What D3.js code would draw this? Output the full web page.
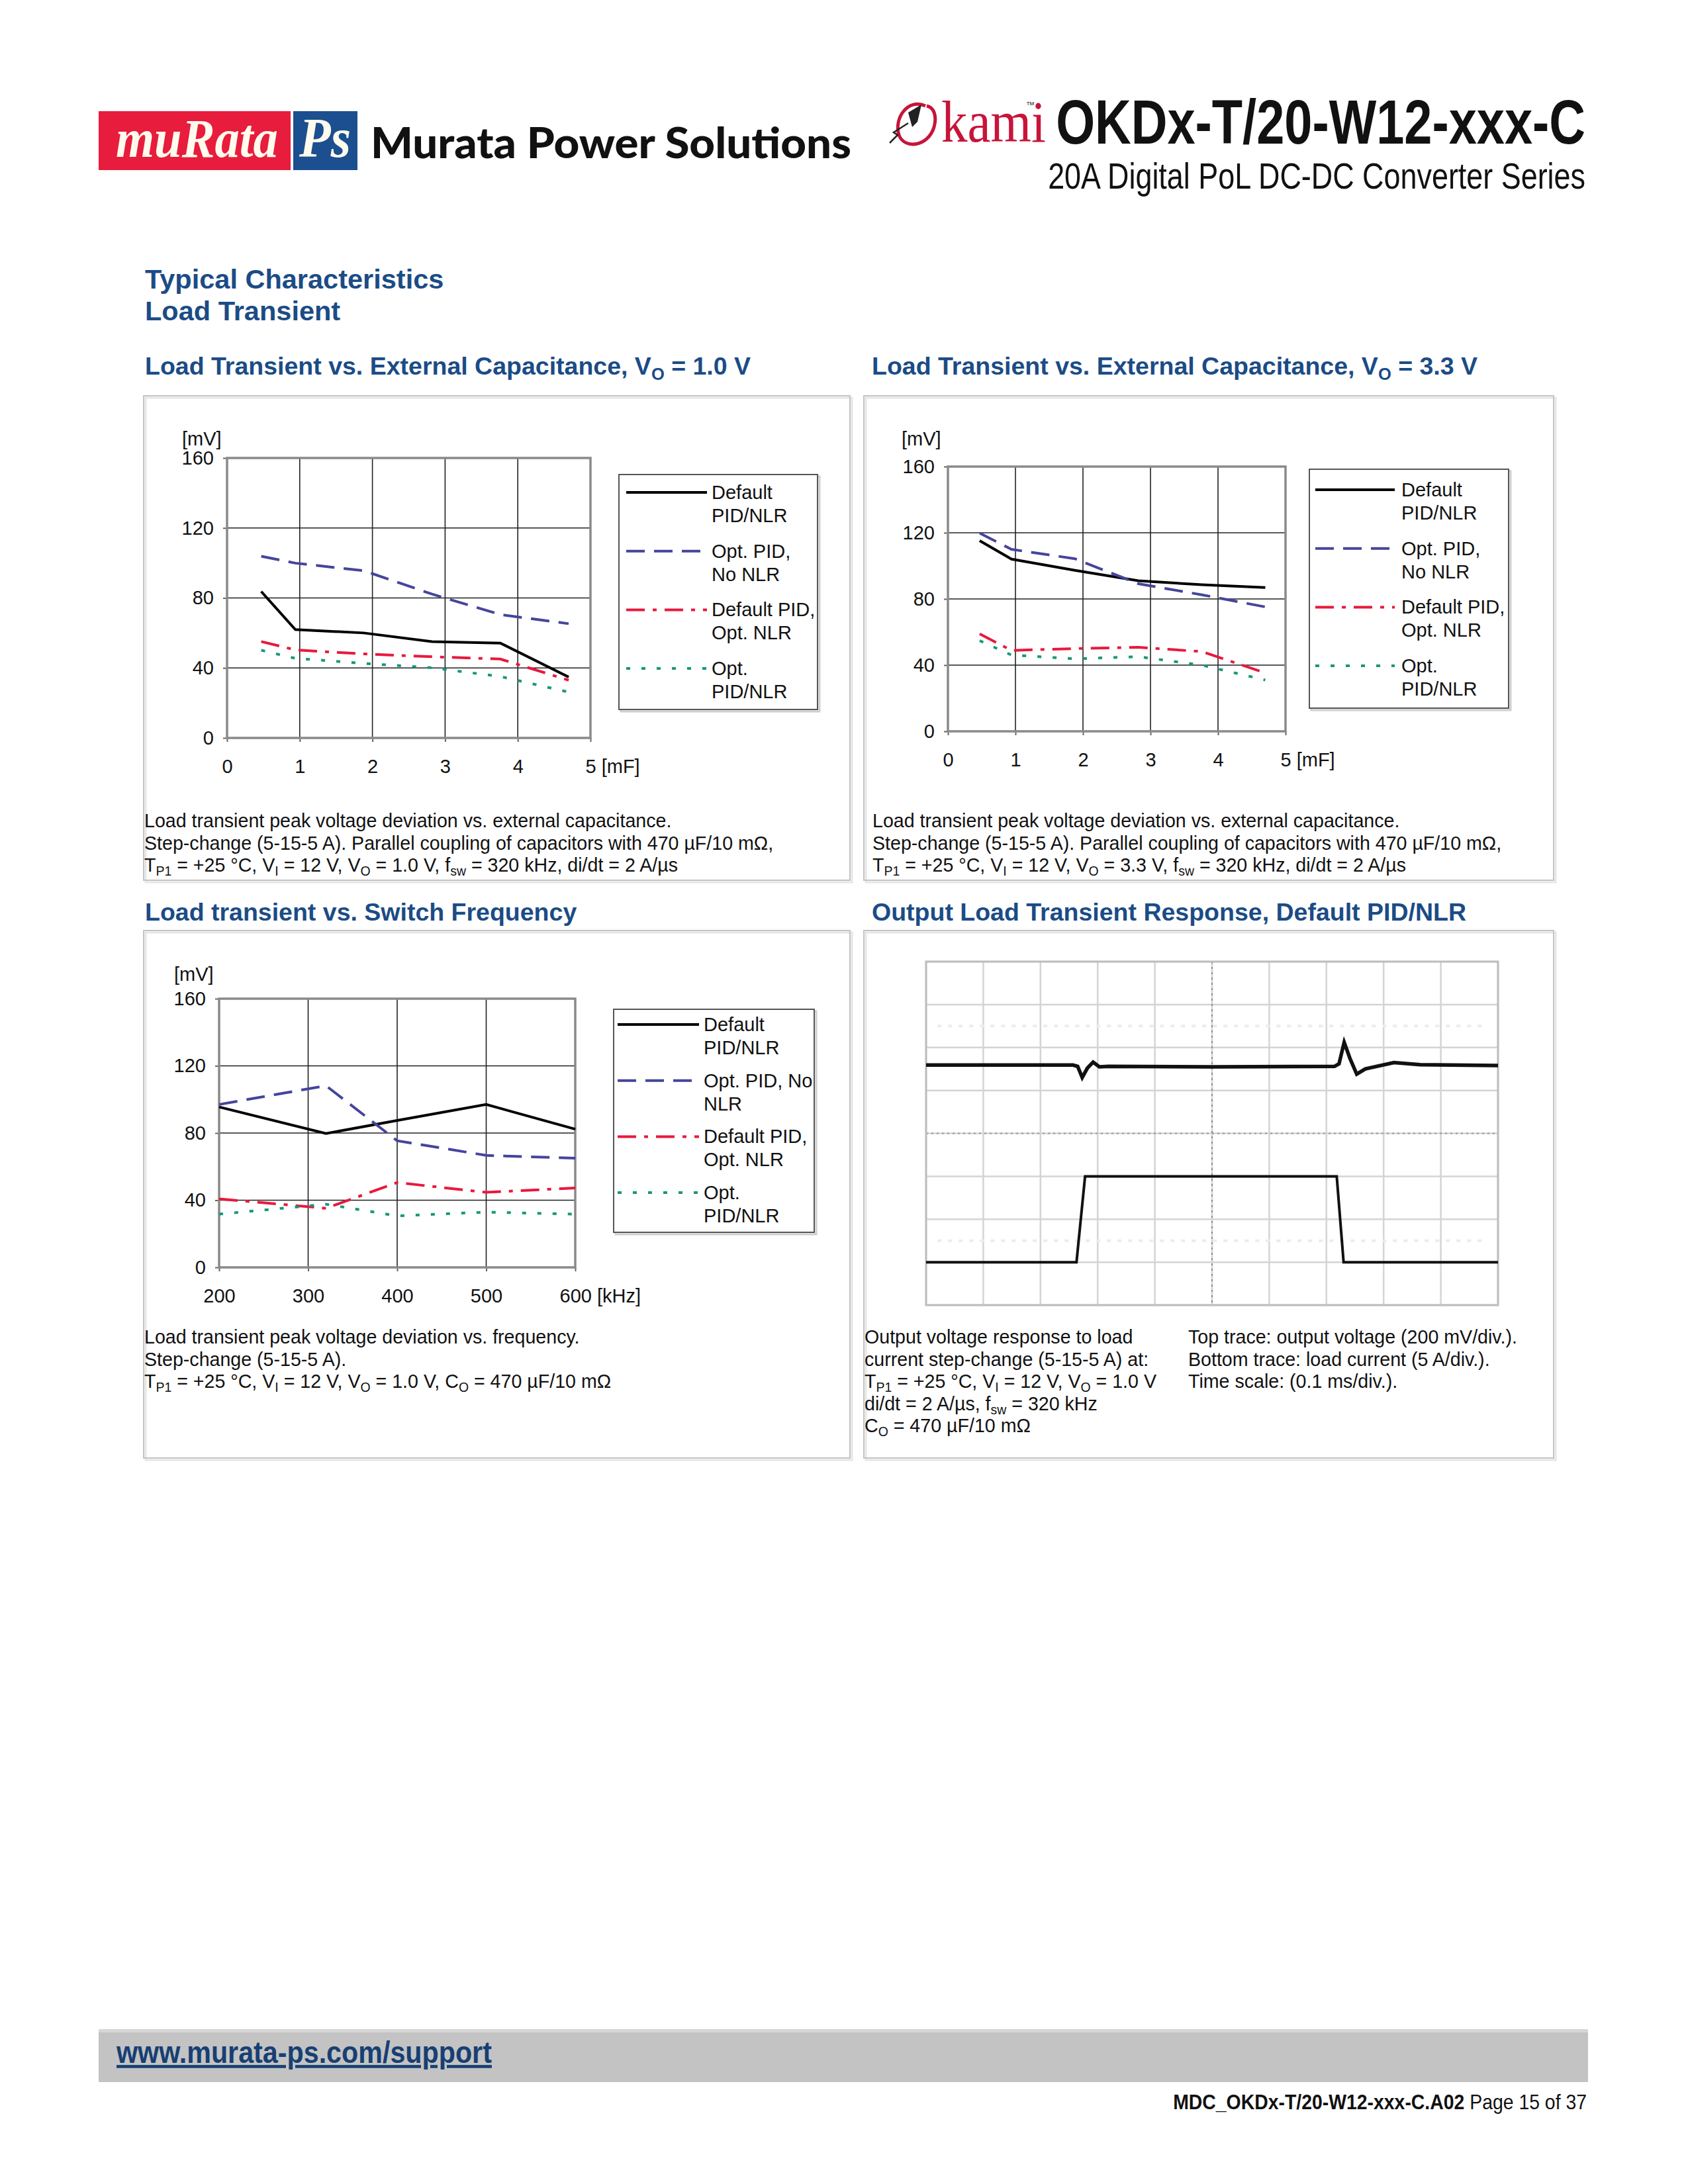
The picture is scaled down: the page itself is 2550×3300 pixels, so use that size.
<!DOCTYPE html>
<html>
<head>
<meta charset="utf-8">
<script src="https://cdn.jsdelivr.net/npm/d3@7"></script>
<style>
  body { margin: 0; background: #fff; }
  text { font-family: "Liberation Sans", Arial, sans-serif; }
</style>
</head>
<body>
<svg id="page" width="2550" height="3300"></svg>
<script>
// ---- data ----
var capMF = [0.47, 0.94, 1.88, 2.82, 3.76, 4.7];       // n x 470 uF
var vo10Default = [83.7, 61.9, 60.0, 55.0, 54.2, 34.8];
var vo10OptPid  = [103.8, 99.9, 95.6, 82.2, 70.5, 65.3];
var vo10OptNlr  = [55.1, 50.3, 48.0, 46.4, 45.1, 33.0];
var vo10OptBoth = [50.1, 45.5, 42.6, 40.1, 35.1, 26.2];

var vo33Default = [115.2, 104.1, 97.3, 91.0, 88.6, 86.9];
var vo33OptPid  = [119.8, 110.0, 104.3, 89.2, 82.5, 75.2];
var vo33OptNlr  = [58.9, 48.9, 50.0, 50.8, 48.2, 35.3];
var vo33OptBoth = [54.8, 46.1, 43.8, 45.1, 40.0, 31.0];

var freqKHz     = [200, 320, 400, 500, 600];
var fswDefault  = [95.5, 79.7, 87.5, 97.0, 82.3];
var fswOptPid   = [97.0, 108.2, 75.4, 66.7, 65.0];
var fswOptNlr   = [40.8, 35.2, 50.5, 44.7, 47.3];
var fswOptBoth  = [31.7, 37.6, 30.7, 32.9, 31.7];

var mvTicks  = [0, 40, 80, 120, 160];
var mfTicks  = [0, 1, 2, 3, 4, 5];
var khzTicks = [200, 300, 400, 500, 600];

var capLegend  = [["Default", "PID/NLR"], ["Opt. PID,", "No NLR"], ["Default PID,", "Opt. NLR"], ["Opt.", "PID/NLR"]];
var freqLegend = [["Default", "PID/NLR"], ["Opt. PID, No", "NLR"], ["Default PID,", "Opt. NLR"], ["Opt.", "PID/NLR"]];

// scope shot: time in ms (0.1 ms/div), output deviation in mV (200 mV/div), load in A (5 A/div)
var scopeTimeV = [0, 0.257, 0.265, 0.273, 0.282, 0.292, 0.303, 0.319, 0.5, 0.714, 0.722, 0.731, 0.741, 0.753, 0.768, 0.818, 0.864, 1.0];
var scopeDevMV = [2, 2, -4, -56, -12, 16, -6, -4, -6, -4, 8, 108, 34, -40, -16, 14, 4, 0];
var scopeTimeI = [0, 0.263, 0.278, 0.718, 0.730, 1.0];
var scopeLoadA = [5, 5, 15, 15, 5, 5];

// ---- styles ----
var blue = "#1b4c86";
var lineStyles = [
  { color: "#000000", dash: null },
  { color: "#45459c", dash: "28,14" },
  { color: "#e8193c", dash: "28,12,6,12" },
  { color: "#17977b", dash: "6,17" }
];

var svg = d3.select("#page");

// text with sub-scripts: parts = ["txt", ["sub","s"], ...]
function rich(g, x, y, parts, size, attrs) {
  var t = g.append("text").attr("x", x).attr("y", y).attr("font-size", size);
  for (var k in attrs) t.attr(k, attrs[k]);
  var pend = 0;
  parts.forEach(function(p) {
    if (typeof p === "string") {
      var ts = t.append("tspan").text(p);
      if (pend) { ts.attr("dy", pend); pend = 0; }
    } else {
      t.append("tspan").attr("dy", size * 0.22).attr("font-size", size * 0.68).text(p[1]);
      pend = -size * 0.22;
    }
  });
  return t;
}

// squeeze a text horizontally to a given width (condensed look)
function squeeze(t, x, y, width) {
  var w = t.node().getComputedTextLength();
  t.attr("transform", "translate(" + x + "," + y + ") scale(" + (width / w) + ",1)");
  return t;
}

// ---- header ----
var hdr = svg.append("g");
hdr.append("rect").attr("x", 149).attr("y", 168).attr("width", 290).attr("height", 89).attr("fill", "#e81c3c");
hdr.append("rect").attr("x", 443).attr("y", 168).attr("width", 97).attr("height", 89).attr("fill", "#1b4f8f");
squeeze(hdr.append("text").style("font-family", "Liberation Serif, serif")
  .attr("font-style", "italic").attr("font-weight", "bold").attr("font-size", 82)
  .attr("fill", "#fffbee").text("muRata"), 175, 237, 245);
squeeze(hdr.append("text").style("font-family", "Liberation Serif, serif")
  .attr("font-style", "italic").attr("font-weight", "bold").attr("font-size", 84)
  .attr("fill", "#fffbee").text("Ps"), 452, 237, 78);
squeeze(hdr.append("text").style("font-family", "Lato, sans-serif").attr("font-weight", 900)
  .attr("font-size", 64).attr("fill", "#111").text("Murata Power Solutions"), 560, 239, 726);

// okami mark
hdr.append("path").attr("d", "M1398,160 C1372,148 1350,178 1358,204 C1366,226 1402,222 1411,192 C1416,174 1410,162 1400,160")
  .attr("fill", "none").attr("stroke", "#c8143a").attr("stroke-width", 5);
hdr.append("path").attr("d", "M1372,170 L1392,158 L1386,184 L1378,192 Z").attr("fill", "#222");
hdr.append("path").attr("d", "M1344,216 L1356,204 L1350,200 L1372,186")
  .attr("fill", "none").attr("stroke", "#222").attr("stroke-width", 2.5);
squeeze(hdr.append("text").style("font-family", "Liberation Serif, serif").attr("font-size", 88)
  .attr("fill", "#c8143a").text("kami"), 1422, 214, 158);
hdr.append("text").attr("x", 1550).attr("y", 163).attr("font-size", 13).attr("fill", "#333").text("™");

squeeze(hdr.append("text").attr("text-anchor", "end")
  .attr("font-weight", "bold").attr("font-size", 94).attr("fill", "#111")
  .text("OKDx-T/20-W12-xxx-C"), 2395, 217, 800);
squeeze(hdr.append("text").attr("text-anchor", "end")
  .attr("font-size", 56).attr("fill", "#111")
  .text("20A Digital PoL DC-DC Converter Series"), 2395, 285, 812);

// ---- section titles ----
svg.append("text").attr("x", 219).attr("y", 436).attr("font-size", 41.5).attr("font-weight", "bold").attr("fill", blue).text("Typical Characteristics");
svg.append("text").attr("x", 219).attr("y", 484).attr("font-size", 41.5).attr("font-weight", "bold").attr("fill", blue).text("Load Transient");

rich(svg, 219, 566, ["Load Transient vs. External Capacitance, V", ["sub", "O"], " = 1.0 V"], 37.5, { "font-weight": "bold", fill: blue });
rich(svg, 1317, 566, ["Load Transient vs. External Capacitance, V", ["sub", "O"], " = 3.3 V"], 37.5, { "font-weight": "bold", fill: blue });
rich(svg, 219, 1391, ["Load transient vs. Switch Frequency"], 37.5, { "font-weight": "bold", fill: blue });
rich(svg, 1317, 1391, ["Output Load Transient Response, Default PID/NLR"], 37.5, { "font-weight": "bold", fill: blue });

// ---- panel frames ----
[[217, 598, 1284, 1330], [1305, 598, 2347, 1330], [217, 1406, 1284, 2203], [1305, 1406, 2347, 2203]].forEach(function(b) {
  svg.append("rect").attr("x", b[0] + 3).attr("y", b[1] + 3).attr("width", b[2] - b[0]).attr("height", b[3] - b[1])
    .attr("fill", "none").attr("stroke", "#e6e6e6").attr("stroke-width", 3);
  svg.append("rect").attr("x", b[0]).attr("y", b[1]).attr("width", b[2] - b[0]).attr("height", b[3] - b[1])
    .attr("fill", "none").attr("stroke", "#c4c4c4").attr("stroke-width", 2);
});

// ---- xy charts ----
function xyChart(cfg) {
  var g = svg.append("g");
  var x = d3.scaleLinear().domain(cfg.xDomain).range([cfg.left, cfg.right]);
  var y = d3.scaleLinear().domain([0, 160]).range([cfg.bottom, cfg.top]);

  // grid
  g.append("g").selectAll("line").data(cfg.xTicks.slice(1, -1)).enter().append("line")
    .attr("x1", function(d) { return x(d); }).attr("x2", function(d) { return x(d); })
    .attr("y1", cfg.top).attr("y2", cfg.bottom).attr("stroke", "#222").attr("stroke-width", 1.6);
  g.append("g").selectAll("line").data(mvTicks.slice(1, -1)).enter().append("line")
    .attr("x1", cfg.left).attr("x2", cfg.right)
    .attr("y1", function(d) { return y(d); }).attr("y2", function(d) { return y(d); })
    .attr("stroke", "#222").attr("stroke-width", 1.6);

  // axes
  var ay = g.append("g").attr("transform", "translate(" + cfg.left + ",0)")
    .call(d3.axisLeft(y).tickValues(mvTicks).tickFormat(d3.format("d")).tickSize(6).tickPadding(14));
  var ax = g.append("g").attr("transform", "translate(0," + cfg.bottom + ")")
    .call(d3.axisBottom(x).tickValues(cfg.xTicks).tickFormat(d3.format("d")).tickSize(6).tickPadding(26));
  [ay, ax].forEach(function(a) {
    a.select(".domain").remove();
    a.selectAll(".tick line").attr("stroke", "#666").attr("stroke-width", 2);
    a.selectAll(".tick text").attr("font-size", 29).attr("fill", "#111")
      .style("font-family", "Liberation Sans, Arial, sans-serif");
  });
  var last = ax.selectAll(".tick text").filter(function(d, i, n) { return i === n.length - 1; });
  last.attr("text-anchor", "start").attr("x", -cfg.lastHalf).text(function(d) { return d + " " + cfg.xUnit; });

  // frame
  g.append("rect").attr("x", cfg.left).attr("y", cfg.top).attr("width", cfg.right - cfg.left)
    .attr("height", cfg.bottom - cfg.top).attr("fill", "none").attr("stroke", "#8a8a8a").attr("stroke-width", 3.5);

  g.append("text").attr("x", cfg.unitX).attr("y", cfg.unitY).attr("font-size", 29).attr("fill", "#111").text("[mV]");

  // series
  var line = d3.line().x(function(d) { return x(d[0]); }).y(function(d) { return y(d[1]); });
  cfg.series.forEach(function(vals, i) {
    var pts = cfg.xs.map(function(xv, j) { return [xv, vals[j]]; });
    g.append("path").attr("d", line(pts)).attr("fill", "none")
      .attr("stroke", lineStyles[i].color).attr("stroke-width", 4)
      .attr("stroke-dasharray", lineStyles[i].dash);
  });

  // legend
  var L = cfg.legend;
  g.append("rect").attr("x", L.x0 + 3).attr("y", L.y0 + 3).attr("width", L.x1 - L.x0).attr("height", L.y1 - L.y0)
    .attr("fill", "none").attr("stroke", "#cfcfcf").attr("stroke-width", 3);
  g.append("rect").attr("x", L.x0).attr("y", L.y0).attr("width", L.x1 - L.x0).attr("height", L.y1 - L.y0)
    .attr("fill", "#fff").attr("stroke", "#555").attr("stroke-width", 2);
  cfg.labels.forEach(function(lab, i) {
    var cy = L.first + i * L.step;
    g.append("line").attr("x1", L.sx0).attr("x2", L.sx1).attr("y1", cy).attr("y2", cy)
      .attr("stroke", lineStyles[i].color).attr("stroke-width", 4).attr("stroke-dasharray", lineStyles[i].dash);
    lab.forEach(function(s, k) {
      g.append("text").attr("x", L.tx).attr("y", cy + 10 + k * 35).attr("font-size", 29).attr("fill", "#111").text(s);
    });
  });
}

xyChart({
  left: 343, right: 892, top: 692, bottom: 1115,
  xDomain: [0, 5], xTicks: mfTicks, xUnit: "[mF]", lastHalf: 8, xs: capMF,
  unitX: 275, unitY: 673,
  series: [vo10Default, vo10OptPid, vo10OptNlr, vo10OptBoth], labels: capLegend,
  legend: { x0: 935, y0: 717, x1: 1235, y1: 1072, first: 744, step: 88.7, sx0: 946, sx1: 1068, tx: 1075 }
});
xyChart({
  left: 1432, right: 1942, top: 705, bottom: 1105,
  xDomain: [0, 5], xTicks: mfTicks, xUnit: "[mF]", lastHalf: 8, xs: capMF,
  unitX: 1362, unitY: 673,
  series: [vo33Default, vo33OptPid, vo33OptNlr, vo33OptBoth], labels: capLegend,
  legend: { x0: 1978, y0: 709, x1: 2279, y1: 1070, first: 740, step: 88.7, sx0: 1987, sx1: 2107, tx: 2117 }
});
xyChart({
  left: 331, right: 869, top: 1509, bottom: 1915,
  xDomain: [200, 600], xTicks: khzTicks, xUnit: "[kHz]", lastHalf: 24, xs: freqKHz,
  unitX: 263, unitY: 1482,
  series: [fswDefault, fswOptPid, fswOptNlr, fswOptBoth], labels: freqLegend,
  legend: { x0: 927, y0: 1525, x1: 1230, y1: 1862, first: 1548, step: 84.7, sx0: 933, sx1: 1056, tx: 1063 }
});

// ---- captions ----
function caption(x, y0, lines) {
  lines.forEach(function(parts, i) { rich(svg, x, y0 + i * 33.5, parts, 28.6, { fill: "#111" }); });
}
function condLine(vo) {
  return ["T", ["sub", "P1"], " = +25 °C, V", ["sub", "I"], " = 12 V, V", ["sub", "O"], " = " + vo + ", f", ["sub", "sw"], " = 320 kHz, di/dt = 2 A/µs"];
}
caption(218, 1250, [["Load transient peak voltage deviation vs. external capacitance."],
  ["Step-change (5-15-5 A). Parallel coupling of capacitors with 470 µF/10 mΩ,"], condLine("1.0 V")]);
caption(1318, 1250, [["Load transient peak voltage deviation vs. external capacitance."],
  ["Step-change (5-15-5 A). Parallel coupling of capacitors with 470 µF/10 mΩ,"], condLine("3.3 V")]);
caption(218, 2030, [["Load transient peak voltage deviation vs. frequency."], ["Step-change (5-15-5 A)."],
  ["T", ["sub", "P1"], " = +25 °C, V", ["sub", "I"], " = 12 V, V", ["sub", "O"], " = 1.0 V, C", ["sub", "O"], " = 470 µF/10 mΩ"]]);
caption(1306, 2030, [["Output voltage response to load"], ["current step-change (5-15-5 A) at:"],
  ["T", ["sub", "P1"], " = +25 °C, V", ["sub", "I"], " = 12 V, V", ["sub", "O"], " = 1.0 V"],
  ["di/dt = 2 A/µs, f", ["sub", "sw"], " = 320 kHz"], ["C", ["sub", "O"], " = 470 µF/10 mΩ"]]);
caption(1795, 2030, [["Top trace: output voltage (200 mV/div.)."], ["Bottom trace: load current (5 A/div.)."],
  ["Time scale: (0.1 ms/div.)."]]);

// ---- scope shot ----
(function() {
  var g = svg.append("g");
  var sx = d3.scaleLinear().domain([0, 1]).range([1399, 2263]);
  var sy = d3.scaleLinear().domain([-4, 4]).range([1972, 1453]);
  var vOffsetDiv = 1.58, mvPerDiv = 200, iCenterA = 20, aPerDiv = 5;
  var cols = d3.range(0, 1.0001, 0.1), rows = d3.range(-4, 4.001, 1);
  g.selectAll("line.c").data(cols).enter().append("line")
    .attr("x1", function(d) { return sx(d); }).attr("x2", function(d) { return sx(d); })
    .attr("y1", sy(4)).attr("y2", sy(-4)).attr("stroke", "#d4d4d4").attr("stroke-width", 2.5);
  g.selectAll("line.r").data(rows).enter().append("line")
    .attr("x1", sx(0)).attr("x2", sx(1))
    .attr("y1", function(d) { return sy(d); }).attr("y2", function(d) { return sy(d); })
    .attr("stroke", "#d4d4d4").attr("stroke-width", 2.5);
  // faint sub-division dots
  [2.5, -2.5].forEach(function(r) {
    g.append("line").attr("x1", sx(0.02)).attr("x2", sx(0.98)).attr("y1", sy(r)).attr("y2", sy(r))
      .attr("stroke", "#ececec").attr("stroke-width", 4).attr("stroke-dasharray", "6,10");
  });
  g.append("line").attr("x1", sx(0.5)).attr("x2", sx(0.5)).attr("y1", sy(4)).attr("y2", sy(-4))
    .attr("stroke", "#8c8c8c").attr("stroke-width", 2).attr("stroke-dasharray", "3,5");
  g.append("line").attr("x1", sx(0)).attr("x2", sx(1)).attr("y1", sy(0)).attr("y2", sy(0))
    .attr("stroke", "#9a9a9a").attr("stroke-width", 2).attr("stroke-dasharray", "3,5");
  g.append("rect").attr("x", sx(0)).attr("y", sy(4)).attr("width", sx(1) - sx(0)).attr("height", sy(-4) - sy(4))
    .attr("fill", "none").attr("stroke", "#bdbdbd").attr("stroke-width", 3);

  var lineV = d3.line().x(function(d, i) { return sx(scopeTimeV[i]); })
    .y(function(d) { return sy(vOffsetDiv + d / mvPerDiv); });
  var lineI = d3.line().x(function(d, i) { return sx(scopeTimeI[i]); })
    .y(function(d) { return sy((d - iCenterA) / aPerDiv); });
  g.append("path").attr("d", lineV(scopeDevMV)).attr("fill", "none").attr("stroke", "#111").attr("stroke-width", 5.5);
  g.append("path").attr("d", lineI(scopeLoadA)).attr("fill", "none").attr("stroke", "#111").attr("stroke-width", 4);
})();

// ---- footer ----
svg.append("rect").attr("x", 149).attr("y", 3066).attr("width", 2250).attr("height", 80).attr("fill", "#c3c3c3");
svg.append("rect").attr("x", 149).attr("y", 3066).attr("width", 2250).attr("height", 5).attr("fill", "#d6d6d6");
squeeze(svg.append("text").attr("font-weight", "bold")
  .attr("font-size", 46).attr("fill", "#173f73").attr("text-decoration", "underline")
  .text("www.murata-ps.com/support"), 176, 3117, 567);
var pg = svg.append("text").attr("text-anchor", "end").attr("font-size", 31).attr("fill", "#111");
pg.append("tspan").attr("font-weight", "bold").text("MDC_OKDx-T/20-W12-xxx-C.A02");
pg.append("tspan").text(" Page 15 of 37");
squeeze(pg, 2397, 3187, 625);
</script>
</body>
</html>
